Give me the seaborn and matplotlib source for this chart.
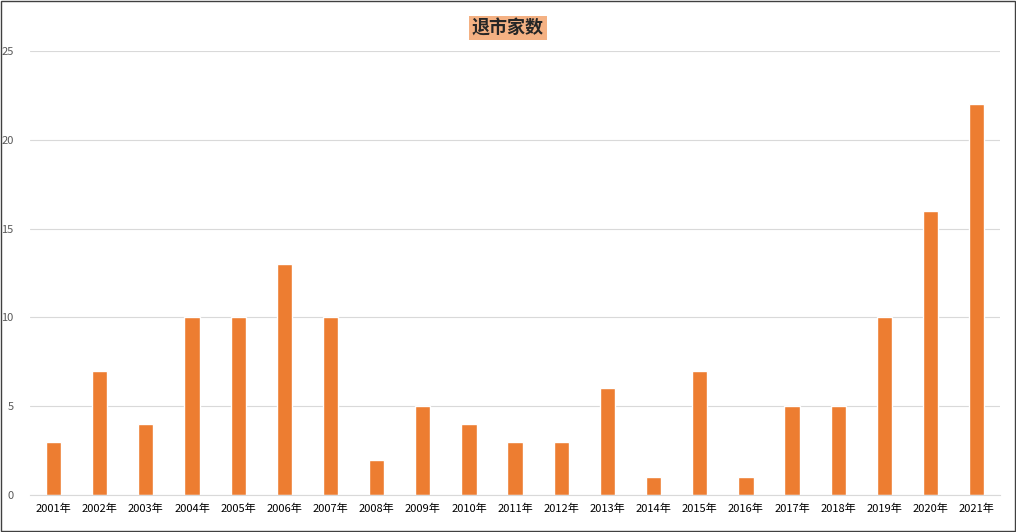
import matplotlib
matplotlib.use("Agg")
import matplotlib.pyplot as plt
import seaborn as sns
import pandas as pd

years = [f"{y}年" for y in range(2001, 2022)]
counts = [3, 7, 4, 10, 10, 13, 10, 2, 5, 4, 3, 3, 6, 1, 7, 1, 5, 5, 10, 16, 22]
yticks = [0, 5, 10, 15, 20, 25]

sns.set_style("white")
plt.rcParams['font.family'] = ['Noto Sans CJK SC', 'DejaVu Sans']

df = pd.DataFrame({"year": years, "count": counts})

fig = plt.figure(figsize=(10.16, 5.32), dpi=100)
ax = fig.add_axes([0.03, 0.0695, 0.954, 0.8345])
sns.barplot(data=df, x="year", y="count", color="#ED7D31", width=0.33,
            saturation=1, ax=ax)

ax.set_ylim(0, 25)
ax.set_yticks(yticks)
ax.yaxis.grid(True, color="#D9D9D9", linewidth=0.8)
ax.set_axisbelow(True)
ax.set_xlabel("")
ax.set_ylabel("")
for s in ["top", "right", "left"]:
    ax.spines[s].set_visible(False)
ax.spines["bottom"].set_color("#D9D9D9")
ax.tick_params(axis="y", labelsize=8, colors="#595959", length=0, pad=12)
ax.tick_params(axis="x", labelsize=8, colors="black", length=0, pad=6)

fig.text(0.5, 0.947, "退市家数", ha="center", va="center", fontsize=13,
         fontweight="bold",
         bbox=dict(boxstyle="square,pad=0.15", facecolor="#F4B183", edgecolor="none"))

fig.patches.append(plt.Rectangle((0.001, 0.002), 0.998, 0.996, transform=fig.transFigure,
                                 fill=False, edgecolor="#404040", linewidth=1))

fig.savefig("out.png", dpi=100)
